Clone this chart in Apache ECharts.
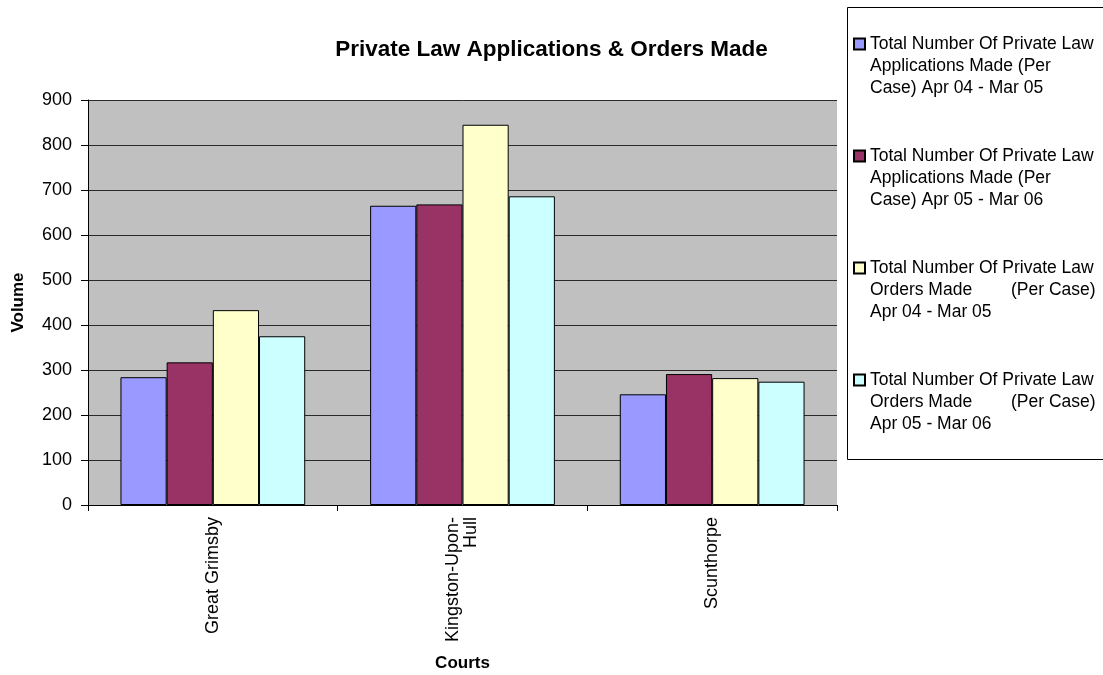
<!DOCTYPE html>
<html>
<head>
<meta charset="utf-8">
<title>Private Law Applications & Orders Made</title>
<script src="https://cdn.jsdelivr.net/npm/echarts@6/dist/echarts.min.js"></script>
<style>
  html, body { margin: 0; padding: 0; background: #fff; }
  #chart { width: 1103px; height: 675px; }
</style>
</head>
<body>
<div id="chart"></div>
<script>
// courts on the x axis
var courts = ['Great Grimsby', 'Kingston-Upon-\nHull', 'Scunthorpe'];

// series names (legend text, wrapped like the original)
var seriesNames = [
  'Total Number Of Private Law\nApplications Made (Per\nCase) Apr 04 - Mar 05',
  'Total Number Of Private Law\nApplications Made (Per\nCase) Apr 05 - Mar 06',
  'Total Number Of Private Law\nOrders Made        (Per Case)\nApr 04 - Mar 05',
  'Total Number Of Private Law\nOrders Made        (Per Case)\nApr 05 - Mar 06'
];

// values
var appsApr04 = [284, 665, 246];
var appsApr05 = [317, 668, 291];
var ordersApr04 = [433, 845, 282];
var ordersApr05 = [375, 686, 274];

var barColors = ['#9999FF', '#993366', '#FFFFCC', '#CCFFFF'];
var font = 'Liberation Sans, Arial, sans-serif';

var chart = echarts.init(document.getElementById('chart'));

var allData = [appsApr04, appsApr05, ordersApr04, ordersApr05];
var series = allData.map(function (d, i) {
  return {
    name: seriesNames[i],
    type: 'bar',
    data: d,
    barGap: '0%',
    barCategoryGap: '26%',
    itemStyle: { color: barColors[i], borderColor: '#000', borderWidth: 1 }
  };
});

chart.setOption({
  animation: false,
  backgroundColor: '#fff',
  textStyle: { fontFamily: font },
  title: {
    text: 'Private Law Applications & Orders Made',
    left: 'center',
    top: 33,
    textStyle: { fontFamily: font, fontSize: 22.5, fontWeight: 'bold', color: '#000' }
  },
  // legend frame (runs off the right edge like the original)
  graphic: [{
    type: 'rect',
    z: 0,
    shape: { x: 847.5, y: 7.5, width: 300, height: 452 },
    style: { fill: '#fff', stroke: '#000', lineWidth: 1 }
  }],
  legend: {
    orient: 'vertical',
    left: 853,
    top: -11,
    padding: 0,
    itemGap: 2,
    itemWidth: 11,
    itemHeight: 11,
    icon: 'rect',
    data: seriesNames,
    // two blank lines on top so the swatch sits level with the first text line
    formatter: function (name) { return '\n\n' + name; },
    textStyle: {
      fontFamily: font,
      fontSize: 17.5,
      lineHeight: 22,
      color: '#000'
    }
  },
  grid: {
    left: 88,
    right: 266,
    top: 100,
    bottom: 170,
    outerBoundsMode: 'none',
    show: true,
    backgroundColor: '#C0C0C0',
    borderWidth: 0
  },
  xAxis: {
    type: 'category',
    data: courts,
    name: 'Courts',
    nameLocation: 'middle',
    nameGap: 150,
    nameMoveOverlap: false,
    nameTextStyle: { fontFamily: font, fontSize: 17, fontWeight: 'bold', color: '#000' },
    axisLine: { lineStyle: { color: '#000', width: 1 } },
    axisTick: { show: true, length: 6, lineStyle: { color: '#000' } },
    axisLabel: {
      rotate: 90,
      interval: 0,
      margin: 12,
      fontFamily: font,
      fontSize: 18,
      lineHeight: 18,
      color: '#000'
    }
  },
  yAxis: {
    type: 'value',
    min: 0,
    max: 900,
    interval: 100,
    name: 'Volume',
    nameLocation: 'middle',
    nameGap: 61,
    nameTextStyle: { fontFamily: font, fontSize: 17, fontWeight: 'bold', color: '#000' },
    axisLine: { show: true, lineStyle: { color: '#000', width: 1 } },
    axisTick: { show: true, length: 7, lineStyle: { color: '#000' } },
    axisLabel: { margin: 16, fontFamily: font, fontSize: 18, color: '#000' },
    splitLine: { show: true, lineStyle: { color: '#2a2a2a', width: 1 } }
  },
  series: series
});
</script>
</body>
</html>
